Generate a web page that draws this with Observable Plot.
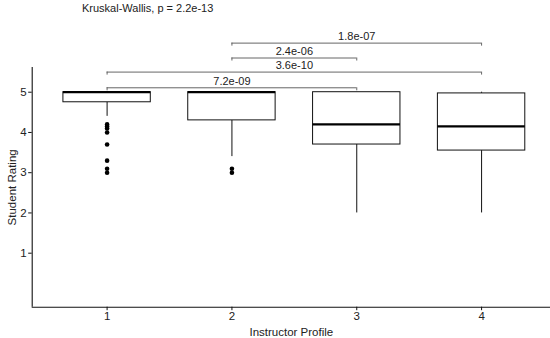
<!DOCTYPE html>
<html>
<head>
<meta charset="utf-8">
<script src="https://cdn.jsdelivr.net/npm/d3@7"></script>
<script src="https://cdn.jsdelivr.net/npm/@observablehq/plot@0.6"></script>
<style>
  html, body { margin: 0; padding: 0; background: #fff; }
  body { width: 550px; height: 338px; overflow: hidden; font-family: "Liberation Sans", Arial, sans-serif; }
  #title { height: 20px; line-height: 17px; font-size: 11px; color: #222; padding-left: 82px; box-sizing: border-box; }
  svg { display: block; }
</style>
</head>
<body>
<div id="title">Kruskal-Wallis, p = 2.2e-13</div>
<div id="chart"></div>
<script>
// ---- data ----
const profiles    = [1, 2, 3, 4];
const q1          = [4.75, 4.30, 3.70, 3.55];
const medians     = [5.00, 5.00, 4.20, 4.15];
const q3          = [5.00, 5.00, 5.00, 4.97];
const whiskerLow  = [4.40, 3.40, 2.00, 2.00];
const whiskerHigh = [5.00, 5.00, 5.00, 5.00];

const outlierProfile = [1, 1, 1, 1, 1, 1, 1, 1, 2, 2];
const outlierValue   = [4.2, 4.15, 4.1, 4.0, 3.7, 3.3, 3.1, 3.0, 3.1, 3.0];

const bracketFrom  = [1, 1, 2, 2];
const bracketTo    = [3, 4, 3, 4];
const bracketLevel = [5.11, 5.50, 5.85, 6.22];
const bracketLabel = ["7.2e-09", "3.6e-10", "2.4e-06", "1.8e-07"];

const xTicks = [1, 2, 3, 4];
const yTicks = [1, 2, 3, 4, 5];
const xDomain = [0.4, 4.552];
const yDomain = [-0.342, 5.614];

// ---- tables ----
const boxes = profiles.map((p, i) => ({p, q1: q1[i], med: medians[i], q3: q3[i], lo: whiskerLow[i], hi: whiskerHigh[i]}));
const outliers = outlierValue.map((v, i) => ({p: outlierProfile[i], v}));
const brackets = bracketFrom.map((a, i) => ({a, b: bracketTo[i], y: bracketLevel[i], label: bracketLabel[i]}));
const tips = brackets.flatMap(d => [{x: d.a, y: d.y}, {x: d.b, y: d.y}]);

const boxHalf = 0.35;
const tipLen = 0.075;

const chart = Plot.plot({
  width: 550,
  height: 318,
  marginLeft: 31.7,
  marginRight: 0,
  marginTop: 47,
  marginBottom: 31.3,
  style: {fontFamily: "Liberation Sans, Arial, sans-serif", fontSize: "11.5px", color: "#222", background: "#fff"},
  x: {type: "linear", domain: xDomain},
  y: {domain: yDomain},
  marks: [
    // whiskers
    Plot.ruleX(boxes, {x: "p", y1: "lo", y2: "q1", stroke: "#111", strokeWidth: 1}),
    Plot.ruleX(boxes, {x: "p", y1: "q3", y2: "hi", stroke: "#111", strokeWidth: 1}),
    // boxes
    Plot.rect(boxes, {x1: d => d.p - boxHalf, x2: d => d.p + boxHalf, y1: "q1", y2: "q3", fill: "white", stroke: "#111", strokeWidth: 1}),
    // medians
    Plot.ruleY(boxes, {x1: d => d.p - boxHalf, x2: d => d.p + boxHalf, y: "med", stroke: "#000", strokeWidth: 2.2}),
    // outliers
    Plot.dot(outliers, {x: "p", y: "v", r: 2.3, fill: "#000", stroke: null}),
    // comparison brackets
    Plot.ruleY(brackets, {x1: "a", x2: "b", y: "y", stroke: "#555", strokeWidth: 0.9}),
    Plot.ruleX(tips, {x: "x", y1: "y", y2: d => d.y - tipLen, stroke: "#555", strokeWidth: 0.9}),
    Plot.text(brackets, {x: d => (d.a + d.b) / 2, y: "y", text: "label", dy: -6.5, fontSize: 11, fill: "#222"}),
    // axes
    Plot.ruleX([xDomain[0]], {y1: yDomain[0], y2: yDomain[1], stroke: "#111", strokeWidth: 1.1}),
    Plot.ruleY([yDomain[0]], {x1: xDomain[0], x2: xDomain[1], stroke: "#111", strokeWidth: 1.1}),
    Plot.axisX(xTicks, {tickSize: 3.5, tickPadding: 1.5, fontSize: 11.5, tickFormat: d3.format("d"), label: "Instructor Profile", labelAnchor: "center", labelOffset: 29, labelArrow: "none", fill: "#222", stroke: "#111"}),
    Plot.axisY(yTicks, {tickSize: 3.5, tickPadding: 2, fontSize: 11.5, tickFormat: d3.format("d"), label: "Student Rating", labelAnchor: "center", labelOffset: 24, labelArrow: "none", fill: "#222", stroke: "#111"})
  ]
});
document.getElementById("chart").appendChild(chart);
</script>
</body>
</html>
